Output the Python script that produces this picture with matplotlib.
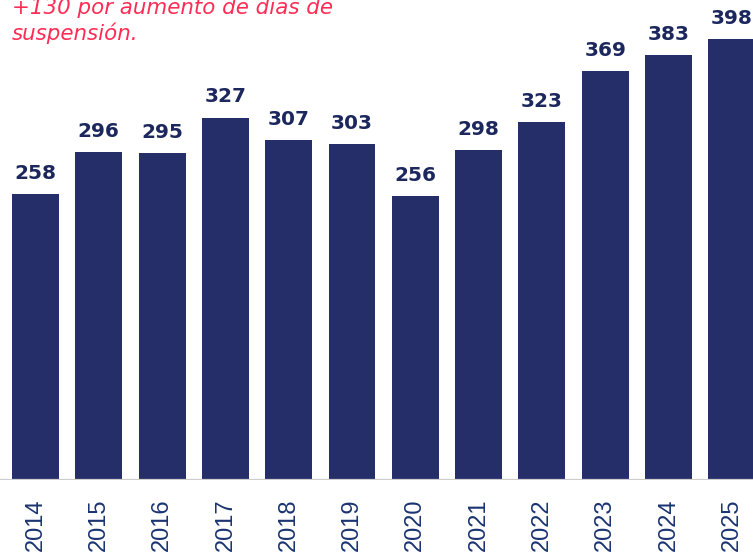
import matplotlib
matplotlib.use("Agg")
import matplotlib.pyplot as plt

years = ["2014", "2015", "2016", "2017", "2018", "2019",
         "2020", "2021", "2022", "2023", "2024", "2025"]
values = [258, 296, 295, 327, 307, 303, 256, 298, 323, 369, 383, 398]

note = "+130 por aumento de dias de\nsuspensión."

bar_color = "#262e6a"
label_color = "#1c275e"
tick_color = "#1a3470"

dpi = 100
fig = plt.figure(figsize=(753 / dpi, 552 / dpi), dpi=dpi)
ax = fig.add_axes([0, 72 / 552, 1, 480 / 552])

x = range(len(years))
ax.bar(x, values, width=0.74, color=bar_color, zorder=2)

for i, v in zip(x, values):
    ax.text(i, v + 10, str(v), ha="center", va="bottom", fontsize=14.5,
            fontweight="bold", color=label_color)

ax.set_xlim(-0.561, 11.335)
ax.set_ylim(0, 433)
ax.axhline(0, color="#cdcdcd", lw=1.6, zorder=3)

ax.set_xticks(list(x))
ax.set_xticklabels(years, rotation=90, fontsize=17, color=tick_color,
                   family="Liberation Sans")
ax.tick_params(axis="x", length=0, pad=13)
ax.set_yticks([])
for s in ax.spines.values():
    s.set_visible(False)

fig.text(12 / 753, 1 + 2 / 552, note, ha="left", va="top", fontsize=15.4,
         style="italic", color="#ff2d55", linespacing=1.25)

fig.savefig("out.png", dpi=dpi)
